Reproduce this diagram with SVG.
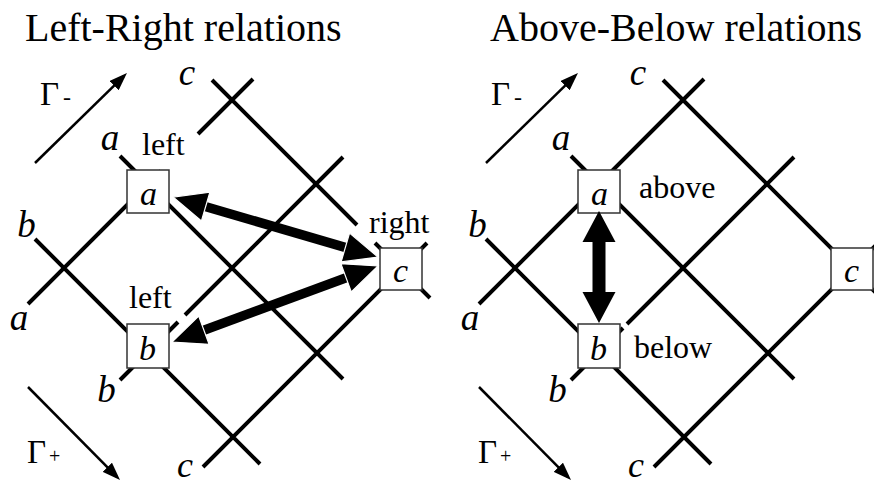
<svg xmlns="http://www.w3.org/2000/svg" width="874" height="485" viewBox="0 0 874 485">
<style>
.t{font-family:"Liberation Serif","Times New Roman",serif;fill:#000}
.title{font-size:40px}
.lbl{font-size:32px}
.it{font-size:37px;font-style:italic}
.itb{font-size:36px;font-style:italic}
.ib{font-size:34px;font-style:italic}
.gam{font-size:33px}
.grid{fill:none;stroke:#000;stroke-width:4}
.box{fill:#fff;stroke:#333;stroke-width:1.5}
.garr{fill:none;stroke:#000;stroke-width:2.5;marker-end:url(#gh)}
.big{fill:none;stroke:#000;stroke-width:9.5;marker-start:url(#bh);marker-end:url(#bh)}
.big2{fill:none;stroke:#000;stroke-width:13;marker-start:url(#bh2);marker-end:url(#bh2)}
</style>
<defs>
<marker id="gh" viewBox="0 0 18 13" refX="14" refY="6.5" markerWidth="18" markerHeight="13" markerUnits="userSpaceOnUse" orient="auto"><path d="M0,0 L18,6.5 L0,13 Z" fill="#000"/></marker>
<marker id="bh" viewBox="-2 -2 38 34" refX="21" refY="15" markerWidth="38" markerHeight="34" markerUnits="userSpaceOnUse" orient="auto-start-reverse" overflow="visible"><path d="M0,0 L34,15 L0,30 Z" fill="#000" stroke="#fff" stroke-width="1.2"/></marker>
<marker id="bh2" viewBox="-2 -2 35 37" refX="16" refY="16.5" markerWidth="35" markerHeight="37" markerUnits="userSpaceOnUse" orient="auto-start-reverse" overflow="visible"><path d="M0,0 L31,16.5 L0,33 Z" fill="#000"/></marker>
</defs>

<text class="t title" x="25" y="41">Left-Right relations</text>
<text class="t title" x="490" y="41">Above-Below relations</text>

<g id="grid">
<path class="grid" d="M120,156 L343,379 M35,239 L260,464 M212,80 L357,225 M375,243 L430,298 M28,304 L161,171 M198,134 L253,79 M120,380 L178,322 M185,315 L343,157 M203,467 L427,243"/>
<path class="grid" d="M571,156 L794,379 M486,239 L711,464 M663,80 L881,298 M479,304 L704,79 M571,380 L623,328 M627,324 L794,157 M654,467 L878,243"/>
</g>

<g id="gamma-left">
<path class="garr" d="M35,163 L124.1,75.8"/>
<text class="t gam" x="40" y="105">Γ<tspan font-size="24" dx="4">-</tspan></text>
<path class="garr" d="M28,387 L117.2,477.2"/>
<text class="t gam" x="27" y="463">Γ<tspan font-size="20" dx="3">+</tspan></text>
</g>
<g id="gamma-right">
<path class="garr" d="M486,163 L575.1,75.8"/>
<text class="t gam" x="491" y="105">Γ<tspan font-size="24" dx="4">-</tspan></text>
<path class="garr" d="M479,387 L568.2,477.2"/>
<text class="t gam" x="478" y="463">Γ<tspan font-size="20" dx="3">+</tspan></text>
</g>

<g id="ends-left">
<text class="t it" x="187" y="85" text-anchor="middle">c</text>
<text class="t it" x="110" y="150" text-anchor="middle">a</text>
<text class="t it" x="26.5" y="237" text-anchor="middle">b</text>
<text class="t it" x="19" y="330" text-anchor="middle">a</text>
<text class="t it" x="106.5" y="402" text-anchor="middle">b</text>
<text class="t itb" x="185" y="477" text-anchor="middle">c</text>
</g>
<g id="ends-right">
<text class="t it" x="638" y="85" text-anchor="middle">c</text>
<text class="t it" x="561" y="150" text-anchor="middle">a</text>
<text class="t it" x="477.5" y="237" text-anchor="middle">b</text>
<text class="t it" x="470" y="330" text-anchor="middle">a</text>
<text class="t it" x="557.5" y="402" text-anchor="middle">b</text>
<text class="t itb" x="636" y="477" text-anchor="middle">c</text>
</g>

<g id="node-left-a"><rect class="box" x="127" y="170" width="42" height="43"/><text class="t ib" x="148.5" y="205" text-anchor="middle">a</text></g>
<g id="node-left-b"><rect class="box" x="127" y="324" width="42" height="44"/><text class="t ib" x="147.5" y="360" text-anchor="middle">b</text></g>
<g id="node-left-c"><rect class="box" x="380" y="248" width="42" height="42"/><text class="t ib" x="400.5" y="282" text-anchor="middle">c</text></g>
<g id="node-right-a"><rect class="box" x="578" y="170" width="42" height="43"/><text class="t ib" x="599.5" y="205" text-anchor="middle">a</text></g>
<g id="node-right-b"><rect class="box" x="578" y="324" width="42" height="44"/><text class="t ib" x="598.5" y="360" text-anchor="middle">b</text></g>
<g id="node-right-c"><rect class="box" x="831" y="248" width="42" height="42"/><text class="t ib" x="851.5" y="282" text-anchor="middle">c</text></g>

<g id="labels">
<text class="t lbl" x="142" y="155">left</text>
<text class="t lbl" x="129" y="308">left</text>
<text class="t lbl" x="369" y="233">right</text>
<text class="t lbl" x="639" y="198">above</text>
<text class="t lbl" x="634" y="358">below</text>
</g>

<g id="connectors">
<path class="big" d="M185.5,200.7 L365.5,253.4"/>
<path class="big" d="M184.2,337.5 L365.8,270.5"/>
<path class="big2" d="M599,226 L599,308"/>
</g>
</svg>
